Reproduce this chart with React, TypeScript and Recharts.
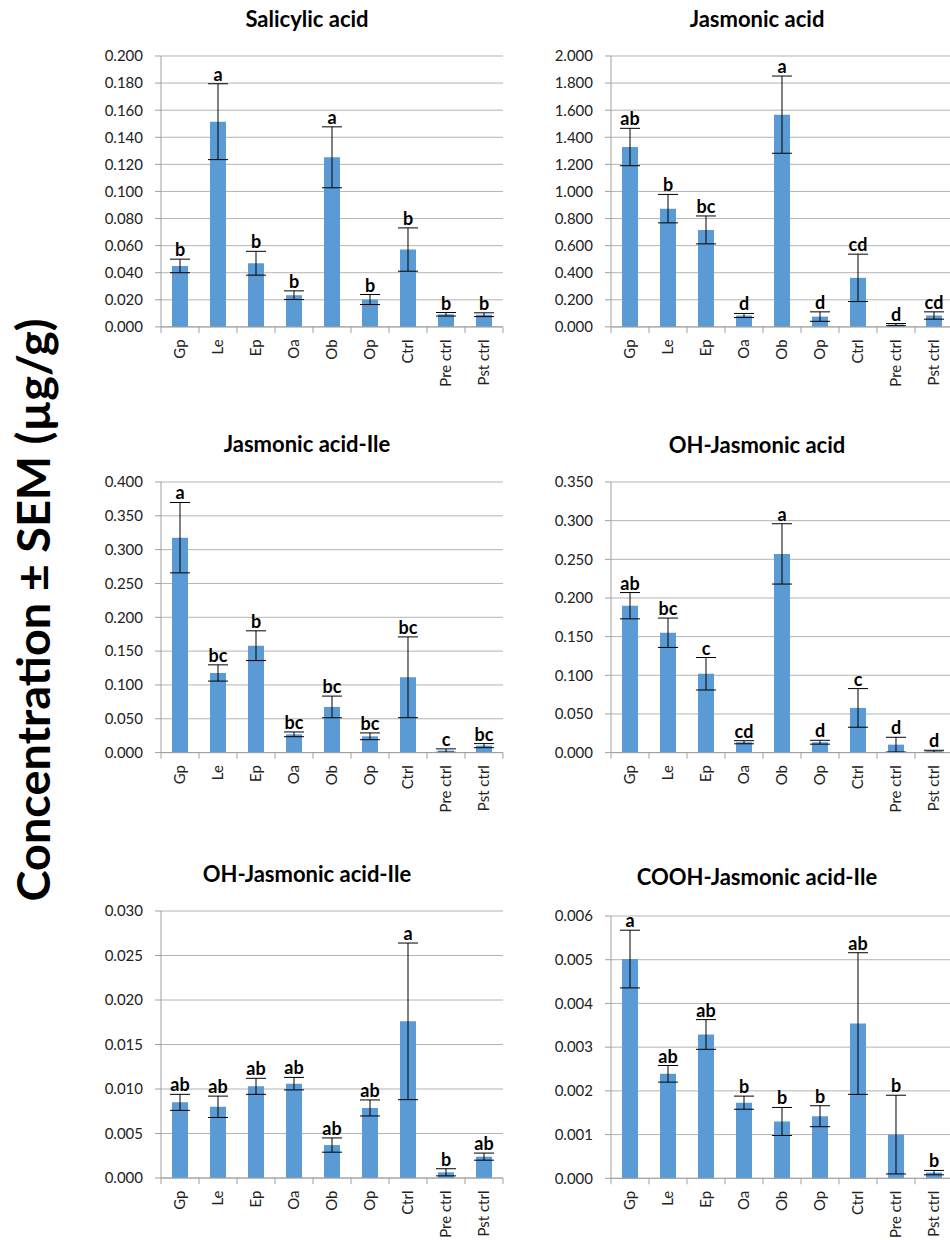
import React from 'react'
import { Bar, CartesianGrid, ComposedChart, ErrorBar, Line, XAxis, YAxis } from 'recharts'

const categories = ['Gp', 'Le', 'Ep', 'Oa', 'Ob', 'Op', 'Ctrl', 'Pre ctrl', 'Pst ctrl']

// Salicylic acid
const saMean = [0.045, 0.1515, 0.047, 0.0234, 0.1252, 0.0202, 0.0571, 0.0093, 0.009]
const saSem = [0.005, 0.028, 0.0088, 0.0032, 0.0225, 0.0037, 0.016, 0.0013, 0.0014]
const saLetters = ['b', 'a', 'b', 'b', 'a', 'b', 'b', 'b', 'b']
const saTicks = [0, 0.02, 0.04, 0.06, 0.08, 0.1, 0.12, 0.14, 0.16, 0.18, 0.2]

// Jasmonic acid
const jaMean = [1.328, 0.873, 0.716, 0.084, 1.567, 0.076, 0.362, 0.017, 0.084]
const jaSem = [0.138, 0.105, 0.103, 0.015, 0.285, 0.035, 0.175, 0.008, 0.027]
const jaLetters = ['ab', 'b', 'bc', 'd', 'a', 'd', 'cd', 'd', 'cd']
const jaTicks = [0, 0.2, 0.4, 0.6, 0.8, 1.0, 1.2, 1.4, 1.6, 1.8, 2.0]

// Jasmonic acid-Ile
const jaIleMean = [0.3177, 0.1177, 0.158, 0.027, 0.0675, 0.0241, 0.1113, 0.003, 0.0103]
const jaIleSem = [0.052, 0.012, 0.022, 0.0035, 0.016, 0.005, 0.0597, 0.0025, 0.003]
const jaIleLetters = ['a', 'bc', 'b', 'bc', 'bc', 'bc', 'bc', 'c', 'bc']
const jaIleTicks = [0, 0.05, 0.1, 0.15, 0.2, 0.25, 0.3, 0.35, 0.4]

// OH-Jasmonic acid
const ohJaMean = [0.19, 0.155, 0.102, 0.0134, 0.257, 0.0134, 0.0578, 0.0103, 0.0017]
const ohJaSem = [0.017, 0.019, 0.021, 0.002, 0.039, 0.0025, 0.025, 0.0095, 0.0013]
const ohJaLetters = ['ab', 'bc', 'c', 'cd', 'a', 'd', 'c', 'd', 'd']
const ohJaTicks = [0, 0.05, 0.1, 0.15, 0.2, 0.25, 0.3, 0.35]

// OH-Jasmonic acid-Ile
const ohJaIleMean = [0.0085, 0.008, 0.0103, 0.0106, 0.0037, 0.00787, 0.0176, 0.00064, 0.0024]
const ohJaIleSem = [0.0009, 0.0012, 0.0009, 0.0007, 0.0008, 0.0009, 0.0088, 0.0004, 0.0004]
const ohJaIleLetters = ['ab', 'ab', 'ab', 'ab', 'ab', 'ab', 'a', 'b', 'ab']
const ohJaIleTicks = [0, 0.005, 0.01, 0.015, 0.02, 0.025, 0.03]

// COOH-Jasmonic acid-Ile
const coohMean = [0.005015, 0.00239, 0.00329, 0.00173, 0.0013, 0.00142, 0.00354, 0.001, 0.00013]
const coohSem = [0.00066, 0.00019, 0.00034, 0.00015, 0.00032, 0.00024, 0.00162, 0.0009, 0.00005]
const coohLetters = ['a', 'ab', 'ab', 'b', 'b', 'b', 'ab', 'b', 'b']
const coohTicks = [0, 0.001, 0.002, 0.003, 0.004, 0.005, 0.006]

const BAND = 38
const Y_AXIS_W = 60
const X_AXIS_H = 100
const M_TOP = 10
const GRID = '#b4b4b4'
const AXIS = '#a0a0a0'
const BLUE = '#5b9bd5'

const panels = [
  { title: 'Salicylic acid', mean: saMean, sem: saSem, letters: saLetters, ticks: saTicks, axisX: 161, top: 55.7, plotH: 270.9, titleX: 307, titleY: 27 },
  { title: 'Jasmonic acid', mean: jaMean, sem: jaSem, letters: jaLetters, ticks: jaTicks, axisX: 610.7, top: 55.7, plotH: 270.9, titleX: 757, titleY: 27 },
  { title: 'Jasmonic acid-Ile', mean: jaIleMean, sem: jaIleSem, letters: jaIleLetters, ticks: jaIleTicks, axisX: 161, top: 481.7, plotH: 270.6, titleX: 307, titleY: 452 },
  { title: 'OH-Jasmonic acid', mean: ohJaMean, sem: ohJaSem, letters: ohJaLetters, ticks: ohJaTicks, axisX: 610.7, top: 481.7, plotH: 270.6, titleX: 757, titleY: 453 },
  { title: 'OH-Jasmonic acid-Ile', mean: ohJaIleMean, sem: ohJaIleSem, letters: ohJaIleLetters, ticks: ohJaIleTicks, axisX: 161, top: 911.3, plotH: 267, titleX: 307, titleY: 882 },
  { title: 'COOH-Jasmonic acid-Ile', mean: coohMean, sem: coohSem, letters: coohLetters, ticks: coohTicks, axisX: 610.7, top: 916, plotH: 262.3, titleX: 757, titleY: 885 },
]

function CatTick(props: any) {
  const { x, y, payload, index } = props
  const axisY = y - 8
  const half = BAND / 2
  const ty = y + 4.5
  return (
    <g>
      <line x1={x - half} x2={x - half} y1={axisY} y2={axisY + 6} stroke={AXIS} />
      {index === categories.length - 1 && (
        <line x1={x + half} x2={x + half} y1={axisY} y2={axisY + 6} stroke={AXIS} />
      )}
      <text
        x={x}
        y={ty}
        dy="0.35em"
        transform={`rotate(-90 ${x} ${ty})`}
        textAnchor="end"
        fontSize={15}
        fill="#222"
      >
        {payload.value}
      </text>
    </g>
  )
}

function LetterDot(props: any) {
  const { cx, cy, payload, index } = props
  if (cx == null || cy == null) return <g key={`e-${index}`} />
  return (
    <text key={`l-${index}`} x={cx} y={cy - 3} textAnchor="middle" fontSize={18} fontWeight="bold" fill="#000">
      {payload.letter}
    </text>
  )
}

function Panel({ p }: { p: (typeof panels)[number] }) {
  const data = categories.map((c, i) => ({
    name: c,
    mean: p.mean[i],
    sem: p.sem[i],
    top: p.mean[i] + p.sem[i],
    letter: p.letters[i],
  }))
  const width = Y_AXIS_W + BAND * categories.length + 4
  const height = M_TOP + p.plotH + X_AXIS_H
  const max = p.ticks[p.ticks.length - 1]
  return (
    <div style={{ position: 'absolute', left: p.axisX - Y_AXIS_W, top: p.top - M_TOP }}>
      <ComposedChart width={width} height={height} data={data} margin={{ top: M_TOP, right: 4, bottom: 0, left: 0 }}>
        <CartesianGrid vertical={false} stroke={GRID} />
        <XAxis
          dataKey="name"
          interval={0}
          height={X_AXIS_H}
          stroke={AXIS}
          tickLine={false}
          tickSize={6}
          tickMargin={2}
          tick={<CatTick />}
        />
        <YAxis
          width={Y_AXIS_W}
          domain={[0, max]}
          ticks={p.ticks}
          interval={0}
          stroke={AXIS}
          tickSize={6}
          tickMargin={12}
          tick={{ fontSize: 15, fill: '#222' }}
          tickFormatter={(v: number) => v.toFixed(3)}
        />
        <Bar dataKey="mean" fill={BLUE} barSize={16} isAnimationActive={false}>
          <ErrorBar dataKey="sem" width={10} stroke="#000" strokeWidth={1} direction="y" />
        </Bar>
        <Line
          dataKey="top"
          stroke="none"
          dot={LetterDot}
          activeDot={false}
          legendType="none"
          isAnimationActive={false}
        />
      </ComposedChart>
    </div>
  )
}

export default function App() {
  return (
    <div
      style={{
        position: 'absolute',
        left: 0,
        top: 0,
        width: 950,
        height: 1240,
        overflow: 'hidden',
        background: '#fff',
        fontFamily: 'Lato, "Open Sans", sans-serif',
      }}
    >
      <svg width={950} height={1240} style={{ position: 'absolute', left: 0, top: 0 }}>
        <text
          transform="translate(50 610) rotate(-90)"
          textAnchor="middle"
          fontSize={46}
          fontWeight="bold"
          textLength={583}
          lengthAdjust="spacingAndGlyphs"
          fill="#000"
        >
          Concentration ± SEM (µg/g)
        </text>
        {panels.map((p) => (
          <text key={p.title} x={p.titleX} y={p.titleY} textAnchor="middle" fontSize={22} fontWeight="bold" fill="#000">
            {p.title}
          </text>
        ))}
      </svg>
      {panels.map((p) => (
        <Panel key={p.title} p={p} />
      ))}
    </div>
  )
}
